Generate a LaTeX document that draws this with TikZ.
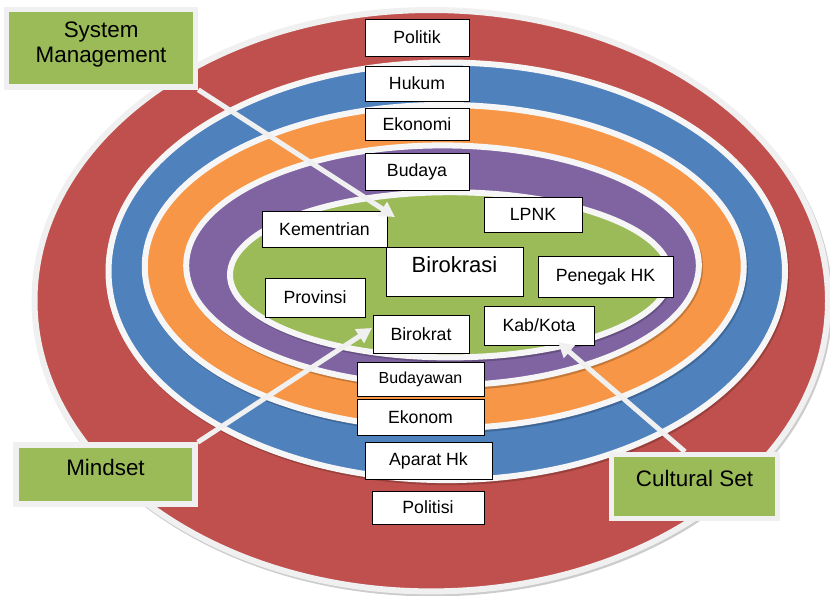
\documentclass[tikz,border=0pt]{standalone}
\usepackage{fontspec}
\setmainfont{Liberation Sans}
\usetikzlibrary{arrows.meta,shadows}
\definecolor{kred}{HTML}{C0504D}
\definecolor{kblue}{HTML}{4F81BD}
\definecolor{korange}{HTML}{F79646}
\definecolor{kpurple}{HTML}{8064A2}
\definecolor{kgreen}{HTML}{9BBB59}
\definecolor{krim}{HTML}{F6F6F6}
\definecolor{lrim}{HTML}{F0F0F0}
\definecolor{arrowc}{HTML}{F0F0F0}
\pgfdeclarelayer{arrowlayer}
\pgfdeclarelayer{labellayer}
\pgfsetlayers{main,arrowlayer,labellayer}
\tikzset{
  ringshadow/.style={fill=black, opacity=0.2},
  ring/.style={draw=krim, line width=6pt},
  wbox/.style={draw=black, line width=0.9pt, fill=white, inner sep=0pt,
    font=\fontsize{17.7}{20}\selectfont},
  gbox/.style={draw=lrim, line width=5.5pt, fill=kgreen, inner sep=0pt,
    font=\fontsize{22.4}{25}\selectfont,
    drop shadow={shadow xshift=2pt, shadow yshift=-2pt, fill=black, opacity=0.3}},
  warrow/.style={draw=arrowc, line width=5pt, -{Triangle[width=16pt,length=15pt]}},
}
\begin{document}
\begin{tikzpicture}[x=1pt,y=-1pt]
\useasboundingbox (0,0) rectangle (830,595);
% rings
\fill[ringshadow] (432.5,302.7) ellipse [x radius=400pt, y radius=293.7pt];
\fill[kred] (431.25,300.7) ellipse [x radius=396.75pt, y radius=290.7pt];
\draw[draw=lrim, line width=6pt] (431.25,300.7) ellipse [x radius=396.75pt, y radius=290.7pt];
\fill[ringshadow] (448,273.3) ellipse [x radius=341.25pt, y radius=211.8pt];
\path[ring, fill=kblue] (446.75,271.3) ellipse [x radius=338.25pt, y radius=208.8pt];
\fill[ringshadow] (445.5,268.6) ellipse [x radius=302.5pt, y radius=164.7pt];
\path[ring, fill=korange] (444.25,266.6) ellipse [x radius=299.5pt, y radius=161.7pt];
\fill[ringshadow] (443.75,267.4) ellipse [x radius=259.3pt, y radius=123pt];
\path[ring, fill=kpurple] (442.5,265.4) ellipse [x radius=256.3pt, y radius=120pt];
\fill[ringshadow] (451.25,276.8) ellipse [x radius=223pt, y radius=85.6pt];
\path[ring, fill=kgreen] (450,274.8) ellipse [x radius=220pt, y radius=82.6pt];
% boxes
\node[wbox, minimum width=104pt, minimum height=37pt] (politik) at (417,37.5) {Politik};
\node[wbox, minimum width=104pt, minimum height=35pt] (hukum) at (417,83.5) {Hukum};
\node[wbox, minimum width=104pt, minimum height=32pt] (ekonomi) at (417,124) {Ekonomi};
\node[wbox, minimum width=104pt, minimum height=37pt] (budaya) at (417,171.5) {Budaya};
\node[wbox, minimum width=125pt, minimum height=36pt] (kementrian) at (324.5,229) {Kementrian};
\node[wbox, minimum width=98pt, minimum height=35pt] (lpnk) at (533,214.5) {LPNK};
\node[wbox, minimum width=137pt, minimum height=49pt, font=\fontsize{22}{24}\selectfont, text depth=13pt] (birokrasi) at (454.5,271.5) {Birokrasi};
\node[wbox, minimum width=135pt, minimum height=41pt] (penegak) at (605.5,276.5) {Penegak HK};
\node[wbox, minimum width=100pt, minimum height=39pt] (provinsi) at (315,297.5) {Provinsi};
\node[wbox, minimum width=96pt, minimum height=38pt] (birokrat) at (421,334) {Birokrat};
\node[wbox, minimum width=110pt, minimum height=39pt] (kabkota) at (539,325.5) {Kab/Kota};
\node[wbox, minimum width=127pt, minimum height=34pt, font=\fontsize{16}{18}\selectfont] (budayawan) at (420.5,379) {Budayawan};
\node[wbox, minimum width=127pt, minimum height=36pt] (ekonom) at (420.5,417) {Ekonom};
\node[wbox, minimum width=127pt, minimum height=37pt] (aparat) at (428.5,460.5) {Aparat Hk};
\node[wbox, minimum width=112pt, minimum height=33pt] (politisi) at (428,507.5) {Politisi};
% label boxes
\begin{pgfonlayer}{labellayer}
\node[gbox, minimum width=188.75pt, minimum height=77.5pt, text depth=13pt] (sm) at (101.1,48.25)
  {\vbox{\baselineskip=25pt\halign{\hfil#\hfil\cr System\cr Management\cr}}};
\node[gbox, minimum width=179pt, minimum height=59pt, text depth=13.3pt] (md) at (105.5,474.5) {Mindset};
\node[gbox, minimum width=166pt, minimum height=64pt, text depth=17pt] (cs) at (694.5,486.5) {Cultural Set};
\end{pgfonlayer}
% arrows
\coordinate (smtip) at (395,217);
\coordinate (mdtip) at (372,328);
\coordinate (cstip) at (558,342);
\begin{pgfonlayer}{arrowlayer}
\draw[warrow] (sm.south east) -- (smtip);
\draw[warrow] (md.north east) -- (mdtip);
\draw[warrow] ([xshift=-9.5pt]cs.north) -- (cstip);
\end{pgfonlayer}
\end{tikzpicture}
\end{document}
